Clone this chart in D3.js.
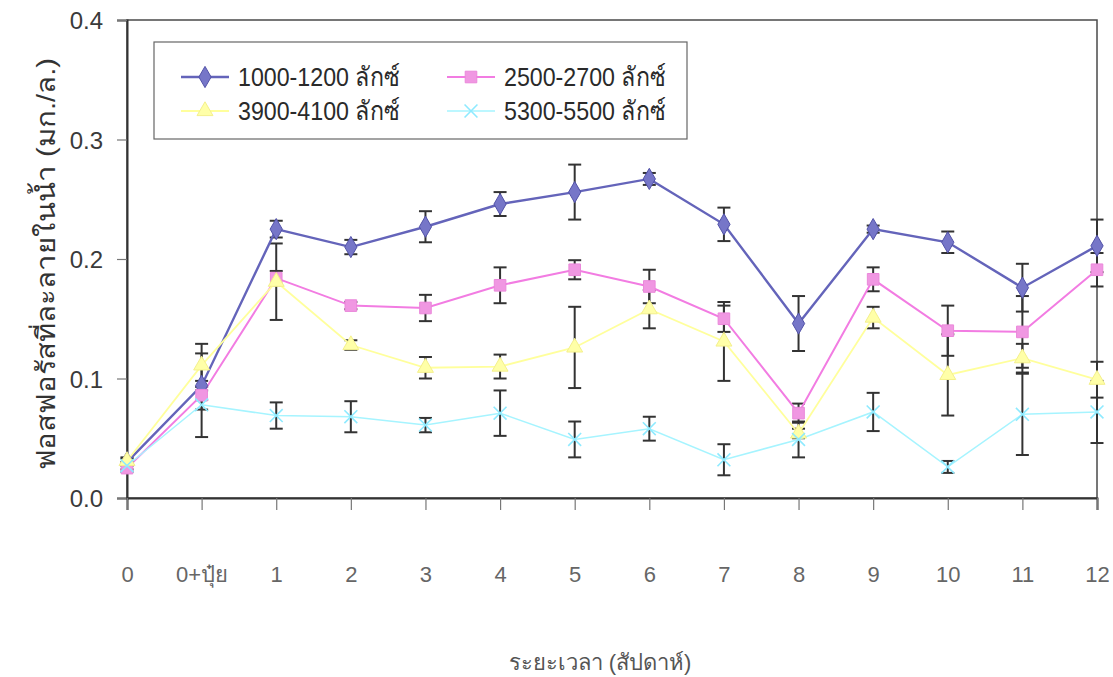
<!DOCTYPE html>
<html>
<head>
<meta charset="utf-8">
<script src="https://cdn.jsdelivr.net/npm/d3@7"></script>
<style>
  html, body { margin: 0; padding: 0; background: #fff; }
  svg { display: block; }
  text { font-family: "Liberation Sans", Arial, "Noto Sans", sans-serif; }
</style>
</head>
<body>
<svg id="chart" width="1113" height="677"></svg>
<script>
// Week labels along the x axis
const weeks = ["0", "0+ปุ๋ย", "1", "2", "3", "4", "5", "6", "7", "8", "9", "10", "11", "12"];
const yTicks = [0.0, 0.1, 0.2, 0.3, 0.4];

// Dissolved phosphorus (mg/L) per light-intensity group, with standard errors
const lux1000 = [0.030, 0.094, 0.225, 0.210, 0.227, 0.246, 0.256, 0.267, 0.229, 0.146, 0.225, 0.214, 0.176, 0.211];
const lux1000Err = [0.003, 0.004, 0.007, 0.006, 0.013, 0.010, 0.023, 0.005, 0.014, 0.023, 0.003, 0.009, 0.020, 0.022];

const lux2500 = [0.025, 0.086, 0.184, 0.161, 0.159, 0.178, 0.191, 0.177, 0.150, 0.071, 0.183, 0.140, 0.139, 0.191];
const lux2500Err = [0.003, 0.035, 0.006, 0.003, 0.011, 0.015, 0.008, 0.014, 0.011, 0.008, 0.010, 0.021, 0.030, 0.014];

const lux3900 = [0.031, 0.111, 0.181, 0.128, 0.109, 0.110, 0.126, 0.158, 0.131, 0.054, 0.151, 0.103, 0.117, 0.099];
const lux3900Err = [0.003, 0.018, 0.032, 0.004, 0.009, 0.010, 0.034, 0.016, 0.033, 0.004, 0.009, 0.034, 0.012, 0.015];

const lux5300 = [0.027, 0.078, 0.069, 0.068, 0.061, 0.071, 0.049, 0.058, 0.032, 0.049, 0.072, 0.026, 0.070, 0.072];
const lux5300Err = [0.003, 0.004, 0.011, 0.013, 0.006, 0.019, 0.015, 0.010, 0.013, 0.015, 0.016, 0.005, 0.034, 0.026];

const seriesNames = ["1000-1200 ลักซ์", "2500-2700 ลักซ์", "3900-4100 ลักซ์", "5300-5500 ลักซ์"];

const series = [
  { name: seriesNames[0], values: lux1000, err: lux1000Err, line: "#6464ba", fill: "#7676c8", stroke: "#5252a8", symbol: d3.symbolDiamond, size: 130, width: 2.4 },
  { name: seriesNames[1], values: lux2500, err: lux2500Err, line: "#f27ce2", fill: "#f097e2", stroke: "#ea88da", symbol: d3.symbolSquare, size: 135, width: 2 },
  { name: seriesNames[2], values: lux3900, err: lux3900Err, line: "#ffff9c", fill: "#ffffa8", stroke: "#f4f08c", symbol: d3.symbolTriangle, size: 110, width: 1.8 },
  { name: seriesNames[3], values: lux5300, err: lux5300Err, line: "#a6f4ff", fill: "none", stroke: "#8eeaff", symbol: d3.symbolX, size: 110, width: 1.5 }
];

const svg = d3.select("#chart");
const plot = { left: 127, right: 1097, top: 20, bottom: 498 };

const x = d3.scalePoint().domain(weeks).range([plot.left, plot.right]).padding(0);
const y = d3.scaleLinear().domain([0, 0.4]).range([plot.bottom, plot.top]);

// Plot frame
svg.append("rect")
  .attr("x", plot.left).attr("y", plot.top)
  .attr("width", plot.right - plot.left).attr("height", plot.bottom - plot.top)
  .attr("fill", "none").attr("stroke", "#4a4a4a").attr("stroke-width", 1.5);

// Y axis
const yAxis = svg.append("g")
  .attr("transform", `translate(${plot.left},0)`)
  .call(d3.axisLeft(y).tickValues(yTicks).tickFormat(d3.format(".1f")).tickSize(10).tickPadding(14));
yAxis.select(".domain").attr("stroke", "#333").attr("stroke-width", 2);
yAxis.selectAll(".tick line").attr("stroke", "#777").attr("stroke-width", 1.2);
yAxis.selectAll(".tick text")
  .attr("fill", "#3a3a3a").style("font-size", "24px").attr("dy", "0.36em");

// X axis
const xAxis = svg.append("g")
  .attr("transform", `translate(0,${plot.bottom})`)
  .call(d3.axisBottom(x).tickSize(12).tickPadding(0));
xAxis.select(".domain").attr("stroke", "#333").attr("stroke-width", 2);
xAxis.selectAll(".tick line").attr("stroke", "#777").attr("stroke-width", 1.2);
xAxis.selectAll(".tick text")
  .attr("fill", "#666").style("font-size", "22px")
  .attr("y", 84).attr("dy", 0);

// Error bars (drawn beneath the series)
const capHalf = 6.5;
const errLayer = svg.append("g").attr("stroke", "#333").attr("stroke-width", 2).attr("fill", "none");
series.forEach(s => {
  s.values.forEach((v, i) => {
    const e = s.err[i];
    const cx = x(weeks[i]);
    const yHi = y(v + e), yLo = y(v - e);
    errLayer.append("line").attr("x1", cx).attr("x2", cx).attr("y1", yHi).attr("y2", yLo);
    errLayer.append("line").attr("x1", cx - capHalf).attr("x2", cx + capHalf).attr("y1", yHi).attr("y2", yHi);
    errLayer.append("line").attr("x1", cx - capHalf).attr("x2", cx + capHalf).attr("y1", yLo).attr("y2", yLo);
  });
});

// Series lines and markers
const lineGen = d3.line().x((d, i) => x(weeks[i])).y(d => y(d));
series.forEach(s => {
  svg.append("path")
    .attr("d", lineGen(s.values))
    .attr("fill", "none")
    .attr("stroke", s.line)
    .attr("stroke-width", s.width);
});
series.forEach(s => {
  svg.append("g").selectAll("path")
    .data(s.values)
    .join("path")
    .attr("transform", (d, i) => `translate(${x(weeks[i])},${y(d)})`)
    .attr("d", d3.symbol().type(s.symbol).size(s.size))
    .attr("fill", s.fill)
    .attr("stroke", s.stroke)
    .attr("stroke-width", s.symbol === d3.symbolX ? 1.6 : 1);
});

// Legend
const legend = svg.append("g");
legend.append("rect")
  .attr("x", 154).attr("y", 42).attr("width", 533).attr("height", 97)
  .attr("fill", "#fff").attr("stroke", "#666").attr("stroke-width", 1.2);
const legendPos = [
  { lx: 181, ly: 77 }, { lx: 447, ly: 77 },
  { lx: 181, ly: 111 }, { lx: 447, ly: 111 }
];
series.forEach((s, k) => {
  const p = legendPos[k];
  const g = legend.append("g");
  g.append("line")
    .attr("x1", p.lx).attr("x2", p.lx + 48).attr("y1", p.ly).attr("y2", p.ly)
    .attr("stroke", s.line).attr("stroke-width", s.width);
  g.append("path")
    .attr("transform", `translate(${p.lx + 24},${p.ly})`)
    .attr("d", d3.symbol().type(s.symbol).size(s.size))
    .attr("fill", s.fill).attr("stroke", s.stroke)
    .attr("stroke-width", s.symbol === d3.symbolX ? 1.6 : 1);
  g.append("text")
    .attr("x", p.lx + 57).attr("y", p.ly + 9)
    .attr("fill", "#2a2a2a")
    .style("font-size", "26px")
    .attr("textLength", 162)
    .attr("lengthAdjust", "spacingAndGlyphs")
    .text(s.name);
});

// Axis titles
svg.append("text")
  .attr("transform", "translate(55,264) rotate(-90)")
  .attr("text-anchor", "middle")
  .attr("fill", "#333")
  .style("font-size", "26px")
  .attr("textLength", 412)
  .attr("lengthAdjust", "spacingAndGlyphs")
  .text("ฟอสฟอรัสที่ละลายในน้ำ (มก./ล.)");

svg.append("text")
  .attr("x", 600).attr("y", 670)
  .attr("text-anchor", "middle")
  .attr("fill", "#555")
  .style("font-size", "22px")
  .text("ระยะเวลา (สัปดาห์)");
</script>
</body>
</html>
